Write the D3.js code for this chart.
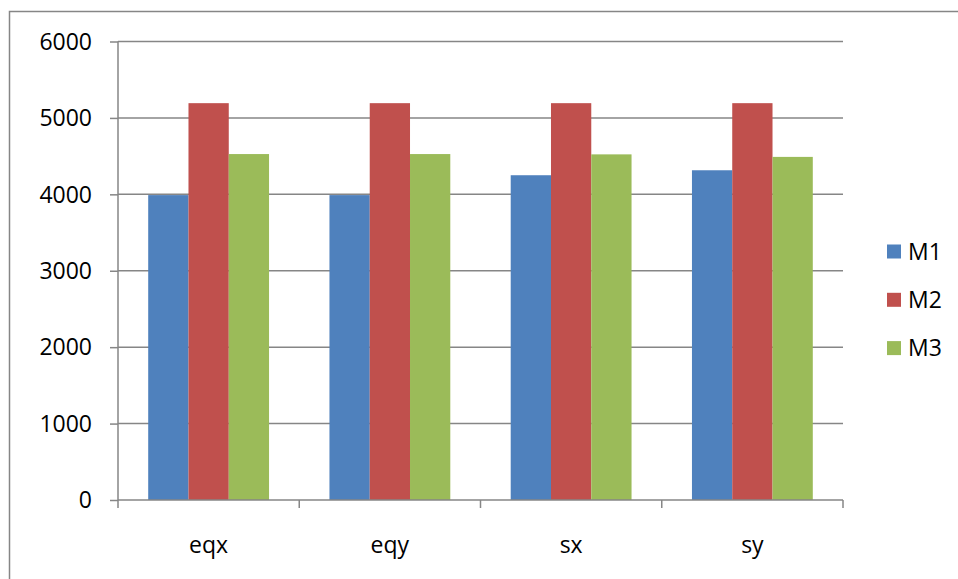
<!DOCTYPE html>
<html>
<head>
<meta charset="utf-8">
<script src="https://cdn.jsdelivr.net/npm/d3@7/dist/d3.min.js"></script>
<style>
  html, body { margin: 0; padding: 0; background: #fff; }
  svg { display: block; }
  text { font-family: "Open Sans", Lato, "Liberation Sans", sans-serif; fill: #000; }
</style>
</head>
<body>
<svg id="chart" width="958" height="579"></svg>
<script>
// Chart data
const categories = ["eqx", "eqy", "sx", "sy"];
const seriesNames = ["M1", "M2", "M3"];
const m1Values = [3990, 3990, 4250, 4315];
const m2Values = [5193, 5193, 5193, 5193];
const m3Values = [4527, 4527, 4523, 4490];
const seriesColors = ["#4F81BD", "#C0504D", "#9BBB59"];
const yTicks = [0, 1000, 2000, 3000, 4000, 5000, 6000];

const seriesValues = [m1Values, m2Values, m3Values];

const svg = d3.select("#chart");
const plot = { left: 118, right: 843, top: 41.5, bottom: 500 };
const gridColor = "#868686";

// Outer chart frame (only the left and top edges fall inside the view)
svg.append("rect")
  .attr("x", 9.5).attr("y", 11.5)
  .attr("width", 1200).attr("height", 1200)
  .attr("fill", "none")
  .attr("stroke", gridColor)
  .attr("stroke-width", 1.5);

const y = d3.scaleLinear().domain([0, 6000]).range([plot.bottom, plot.top]);
const x0 = d3.scaleBand().domain(categories).range([plot.left, plot.right]).padding(0);
const bw = x0.bandwidth();
// gap width of 150%: each bar is 1/4.5 of a category slot
const x1 = d3.scaleBand().domain(seriesNames).range([bw / 6, bw * 5 / 6]).padding(0);

// Horizontal gridlines
svg.append("g")
  .selectAll("line")
  .data(yTicks.filter(d => d > 0))
  .join("line")
  .attr("x1", plot.left).attr("x2", plot.right)
  .attr("y1", d => y(d)).attr("y2", d => y(d))
  .attr("stroke", gridColor).attr("stroke-width", 1.5);

// Bars
const groups = svg.append("g")
  .selectAll("g")
  .data(categories)
  .join("g")
  .attr("transform", d => `translate(${x0(d)},0)`);

groups.selectAll("rect")
  .data((c, i) => seriesNames.map((s, j) => ({ s, j, v: seriesValues[j][i] })))
  .join("rect")
  .attr("x", d => x1(d.s))
  .attr("width", x1.bandwidth())
  .attr("y", d => y(d.v))
  .attr("height", d => y(0) - y(d.v))
  .attr("fill", d => seriesColors[d.j]);

// Y axis
const yAxis = svg.append("g")
  .attr("transform", `translate(${plot.left},0)`)
  .call(d3.axisLeft(y).tickValues(yTicks).tickSize(8).tickPadding(18).tickFormat(d3.format("d")));
yAxis.select(".domain").attr("stroke", gridColor).attr("stroke-width", 1.5)
  .attr("d", `M0,${plot.top}V${plot.bottom}`);
yAxis.selectAll(".tick line").attr("stroke", gridColor).attr("stroke-width", 1.5);
yAxis.selectAll(".tick text").attr("font-size", 23).attr("font-family", null).attr("dy", "0.34em");

// X axis line with ticks at category boundaries
const xAxis = svg.append("g");
xAxis.append("line")
  .attr("x1", plot.left).attr("x2", plot.right)
  .attr("y1", y(0)).attr("y2", y(0))
  .attr("stroke", gridColor).attr("stroke-width", 1.5);
const boundaries = categories.map(c => x0(c)).concat([plot.right]);
xAxis.selectAll("line.tick")
  .data(boundaries)
  .join("line")
  .attr("class", "tick")
  .attr("x1", d => d).attr("x2", d => d)
  .attr("y1", y(0)).attr("y2", y(0) + 8)
  .attr("stroke", gridColor).attr("stroke-width", 1.5);
xAxis.selectAll("text")
  .data(categories)
  .join("text")
  .attr("x", d => x0(d) + bw / 2)
  .attr("y", 546)
  .attr("dy", "0.3em")
  .attr("text-anchor", "middle")
  .attr("font-size", 23)
  .text(d => d);

// Legend
const legend = svg.append("g")
  .selectAll("g")
  .data(seriesNames)
  .join("g")
  .attr("transform", (d, i) => `translate(887,${251.5 + i * 48.3})`);
legend.append("rect")
  .attr("x", 0).attr("y", -7)
  .attr("width", 14).attr("height", 14)
  .attr("fill", (d, i) => seriesColors[i]);
legend.append("text")
  .attr("x", 21).attr("y", 0)
  .attr("dy", "0.36em")
  .attr("font-size", 23)
  .text(d => d);
</script>
</body>
</html>
